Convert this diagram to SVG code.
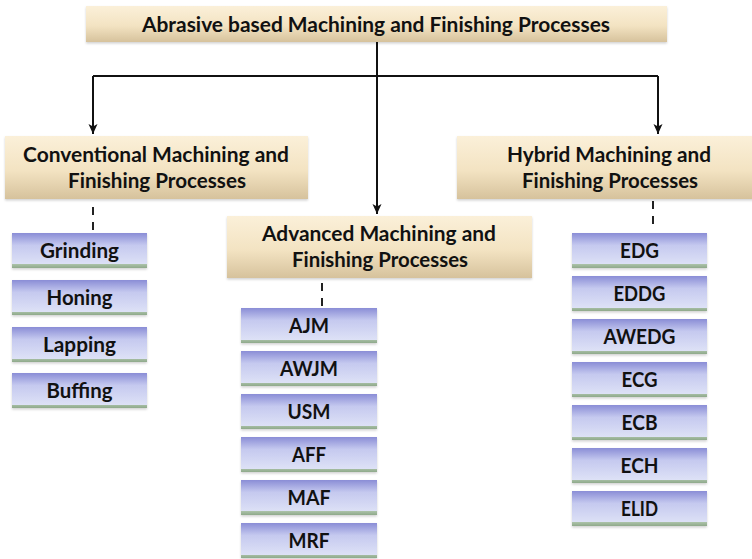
<svg xmlns="http://www.w3.org/2000/svg" width="752" height="559" viewBox="0 0 752 559">
  <defs>
    <linearGradient id="beige" x1="0" y1="0" x2="0" y2="1">
      <stop offset="0" stop-color="#fbf0d9"/>
      <stop offset="0.55" stop-color="#f3e3c2"/>
      <stop offset="1" stop-color="#d6c29c"/>
    </linearGradient>
    <linearGradient id="lilac" x1="0" y1="0" x2="0" y2="1">
      <stop offset="0" stop-color="#8a8dd6"/>
      <stop offset="0.35" stop-color="#c5c9ef"/>
      <stop offset="0.9" stop-color="#dde1f6"/>
      <stop offset="0.9" stop-color="#a9c0a6"/>
      <stop offset="1" stop-color="#8fa98b"/>
    </linearGradient>
    <filter id="soft" x="-5%" y="-10%" width="110%" height="130%">
      <feDropShadow dx="0" dy="1.5" stdDeviation="1.2" flood-color="#000" flood-opacity="0.18"/>
    </filter>
    <marker id="arrow" viewBox="0 0 10 10" refX="10" refY="5" markerWidth="10" markerHeight="10" markerUnits="userSpaceOnUse" orient="auto">
      <path d="M0,0.5 L10,5 L0,9.5 L2.5,5 Z" fill="#111"/>
    </marker>
  </defs>
  <style>
    .head rect { fill: url(#beige); filter: url(#soft); }
    .item rect { fill: url(#lilac); filter: url(#soft); }
    text { font-family: Lato, "Open Sans", "Liberation Sans", sans-serif; font-weight: bold; fill: #111; text-anchor: middle; font-size: 21.5px; }
    .item text { font-size: 21px; }
    .link { stroke: #111; stroke-width: 2; fill: none; }
    .dash { stroke: #222; stroke-width: 2; fill: none; stroke-dasharray: 8 7; }
  </style>

  <!-- connectors -->
  <g id="connectors">
    <path class="link" d="M377,42 V214" marker-end="url(#arrow)"/>
    <path class="link" d="M93,76 H658"/>
    <path class="link" d="M93,76 V134" marker-end="url(#arrow)"/>
    <path class="link" d="M658,76 V134" marker-end="url(#arrow)"/>
    <path class="dash" d="M93,207 V231"/>
    <path class="dash" d="M322,283 V306"/>
    <path class="dash" d="M653,201 V225"/>
  </g>

  <!-- category headings -->
  <g id="root" class="head">
    <rect x="86" y="6" width="581" height="36"/>
    <text x="376" y="31.5" textLength="468" lengthAdjust="spacingAndGlyphs">Abrasive based Machining and Finishing Processes</text>
  </g>
  <g id="conventional" class="head">
    <rect x="5" y="136" width="303" height="63"/>
    <text x="156" y="162" textLength="266" lengthAdjust="spacingAndGlyphs">Conventional Machining and</text>
    <text x="157" y="188" textLength="178" lengthAdjust="spacingAndGlyphs">Finishing Processes</text>
  </g>
  <g id="advanced" class="head">
    <rect x="227" y="216" width="305" height="62"/>
    <text x="379" y="241" textLength="234" lengthAdjust="spacingAndGlyphs">Advanced Machining and</text>
    <text x="380" y="267" textLength="176" lengthAdjust="spacingAndGlyphs">Finishing Processes</text>
  </g>
  <g id="hybrid" class="head">
    <rect x="457" y="136" width="304" height="63"/>
    <text x="609" y="162" textLength="204" lengthAdjust="spacingAndGlyphs">Hybrid Machining and</text>
    <text x="610" y="188" textLength="176" lengthAdjust="spacingAndGlyphs">Finishing Processes</text>
  </g>

  <!-- conventional processes -->
  <g id="grinding" class="item"><rect x="12" y="233" width="135" height="35"/><text x="79.5" y="258" textLength="79" lengthAdjust="spacingAndGlyphs">Grinding</text></g>
  <g id="honing" class="item"><rect x="12" y="280" width="135" height="35"/><text x="79.5" y="305" textLength="66" lengthAdjust="spacingAndGlyphs">Honing</text></g>
  <g id="lapping" class="item"><rect x="12" y="327" width="135" height="35"/><text x="79.5" y="352" textLength="73" lengthAdjust="spacingAndGlyphs">Lapping</text></g>
  <g id="buffing" class="item"><rect x="12" y="373" width="135" height="35"/><text x="79.5" y="398" textLength="66" lengthAdjust="spacingAndGlyphs">Buffing</text></g>

  <!-- advanced processes -->
  <g id="ajm" class="item"><rect x="241" y="308" width="136" height="35"/><text x="309" y="333" textLength="40" lengthAdjust="spacingAndGlyphs">AJM</text></g>
  <g id="awjm" class="item"><rect x="241" y="351" width="136" height="35"/><text x="309" y="376" textLength="58" lengthAdjust="spacingAndGlyphs">AWJM</text></g>
  <g id="usm" class="item"><rect x="241" y="394" width="136" height="35"/><text x="309" y="419" textLength="43" lengthAdjust="spacingAndGlyphs">USM</text></g>
  <g id="aff" class="item"><rect x="241" y="437" width="136" height="35"/><text x="309" y="462" textLength="34" lengthAdjust="spacingAndGlyphs">AFF</text></g>
  <g id="maf" class="item"><rect x="241" y="480" width="136" height="35"/><text x="309" y="505" textLength="43" lengthAdjust="spacingAndGlyphs">MAF</text></g>
  <g id="mrf" class="item"><rect x="241" y="523" width="136" height="35"/><text x="309" y="548" textLength="41" lengthAdjust="spacingAndGlyphs">MRF</text></g>

  <!-- hybrid processes -->
  <g id="edg" class="item"><rect x="572" y="233" width="135" height="35"/><text x="639.5" y="258" textLength="39" lengthAdjust="spacingAndGlyphs">EDG</text></g>
  <g id="eddg" class="item"><rect x="572" y="276" width="135" height="35"/><text x="639.5" y="301" textLength="52" lengthAdjust="spacingAndGlyphs">EDDG</text></g>
  <g id="awedg" class="item"><rect x="572" y="319" width="135" height="35"/><text x="639.5" y="344" textLength="72" lengthAdjust="spacingAndGlyphs">AWEDG</text></g>
  <g id="ecg" class="item"><rect x="572" y="362" width="135" height="35"/><text x="639.5" y="387" textLength="36" lengthAdjust="spacingAndGlyphs">ECG</text></g>
  <g id="ecb" class="item"><rect x="572" y="405" width="135" height="35"/><text x="639.5" y="430" textLength="36" lengthAdjust="spacingAndGlyphs">ECB</text></g>
  <g id="ech" class="item"><rect x="572" y="448" width="135" height="35"/><text x="639.5" y="473" textLength="38" lengthAdjust="spacingAndGlyphs">ECH</text></g>
  <g id="elid" class="item"><rect x="572" y="491" width="135" height="35"/><text x="639.5" y="516" textLength="37" lengthAdjust="spacingAndGlyphs">ELID</text></g>
</svg>
